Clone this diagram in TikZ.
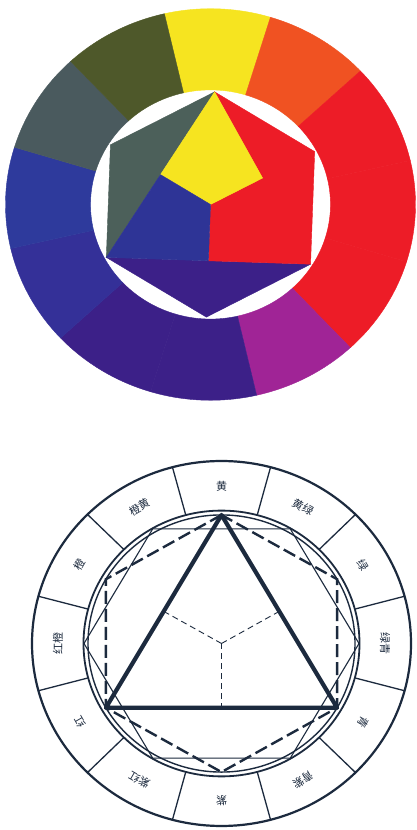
\documentclass[tikz,border=0pt]{standalone}
\usepackage{fontspec}
\newfontfamily\cjk{Noto Sans CJK SC}
\usetikzlibrary{calc}

\definecolor{ink}{RGB}{28,42,62}
\definecolor{cyellow}{RGB}{246,228,32}
\definecolor{corange}{RGB}{240,82,34}
\definecolor{cred}{RGB}{237,28,39}
\definecolor{cmagenta}{RGB}{160,36,150}
\definecolor{cviolet}{RGB}{60,32,136}
\definecolor{cindigo}{RGB}{52,48,152}
\definecolor{cblue}{RGB}{46,58,156}
\definecolor{cslate}{RGB}{74,90,94}
\definecolor{colive}{RGB}{78,88,42}
\definecolor{cgreen}{RGB}{76,96,90}
\definecolor{cinblue}{RGB}{46,52,150}

\tikzset{
  seg/.style={fill=#1,draw=#1,line width=0.4pt},
  ring/.style={draw=ink,line width=1.3pt},
  thinhex/.style={draw=ink,line width=1.1pt,line join=round},
  dashhex/.style={draw=ink,line width=2.4pt,dash pattern=on 13pt off 5pt},
  tri/.style={draw=ink,line width=4.2pt,line join=round},
  axis/.style={draw=ink,line width=0.9pt,dash pattern=on 6pt off 4pt},
  lbl/.style={font=\cjk\fontsize{11}{13}\selectfont,text=ink,inner sep=0pt}
}

\begin{document}
\begin{tikzpicture}[x=1pt,y=1pt]
\useasboundingbox (0,0) rectangle (416,830);
\fill[white] (0,0) rectangle (416,830);

% colour circle
\begin{scope}[shift={(210.5,625.5)},yscale=0.955,rotate=-2]
\foreach \a/\c in {90/cyellow,60/corange,30/cred,0/cred,-30/cred,-60/cmagenta,
                   -90/cviolet,-120/cviolet,-150/cindigo,180/cblue,150/cslate,120/colive}{
    \filldraw[seg=\c] ({\a-15}:120) -- ({\a-15}:205)
        arc[start angle=\a-15,end angle=\a+15,radius=205] -- ({\a+15}:120)
        arc[start angle=\a+15,end angle=\a-15,radius=120] -- cycle;
}
\coordinate (tO) at (0,0);
\coordinate (tT) at (90:118);
\coordinate (tUR) at (30:118);
\coordinate (tR) at (-30:118);
\coordinate (tB) at (-90:118);
\coordinate (tL) at (-150:118);
\coordinate (tUL) at (150:118);
\coordinate (tml) at ($(tT)!0.5!(tL)$);
\coordinate (tmr) at ($(tT)!0.5!(tR)$);
\coordinate (tmb) at ($(tL)!0.5!(tR)$);

\filldraw[seg=cgreen] (tT) -- (tUL) -- (tL) -- cycle;
\filldraw[seg=cviolet] (tL) -- (tR) -- (tB) -- cycle;
\filldraw[seg=cred] (tT) -- (tUR) -- (tR) -- (tmb) -- (tO) -- (tmr) -- cycle;
\filldraw[seg=cyellow] (tT) -- (tmr) -- (tO) -- (tml) -- cycle;
\filldraw[seg=cinblue] (tL) -- (tml) -- (tO) -- (tmb) -- cycle;
\end{scope}

% line drawing
\begin{scope}[shift={(221.5,186.5)},yscale=0.963]
\draw[ink,line width=2.2pt] (0,0) circle (189.5);
\draw[ink,line width=1.8pt] (0,0) circle (138);
\draw[ink,line width=1.4pt] (0,0) circle (133.5);
\foreach \a in {75,105,...,405}
    \draw[ring] (\a:138) -- (\a:189.5);

\foreach \a/\t [count=\i] in {90/黄,60/黄绿,30/绿,0/绿青,-30/青,-60/青紫,
                              -90/紫,-120/紫红,-150/红,180/红橙,150/橙,120/橙黄}
    \node[lbl,rotate=\a-90] (lab\i) at (\a:163.5) {\t};

\coordinate (O) at (0,0);
\foreach \a [count=\i] in {0,60,...,300}
    \coordinate (f\i) at (\a:137.5);
\foreach \a [count=\i] in {90,150,...,390}
    \coordinate (p\i) at (\a:133.5);

\draw[thinhex] (f1) -- (f2) -- (f3) -- (f4) -- (f5) -- (f6) -- cycle;
\draw[dashhex] (p1) -- (p2) -- (p3) -- (p4) -- (p5) -- (p6) -- cycle;

\draw[axis] (O) -- ($(p1)!0.5!(p3)$);
\draw[axis] (O) -- ($(p1)!0.5!(p5)$);
\draw[axis] (O) -- ($(p3)!0.5!(p5)$);

\draw[tri] (p1) -- (p3) -- (p5) -- cycle;
\end{scope}
\end{tikzpicture}
\end{document}
